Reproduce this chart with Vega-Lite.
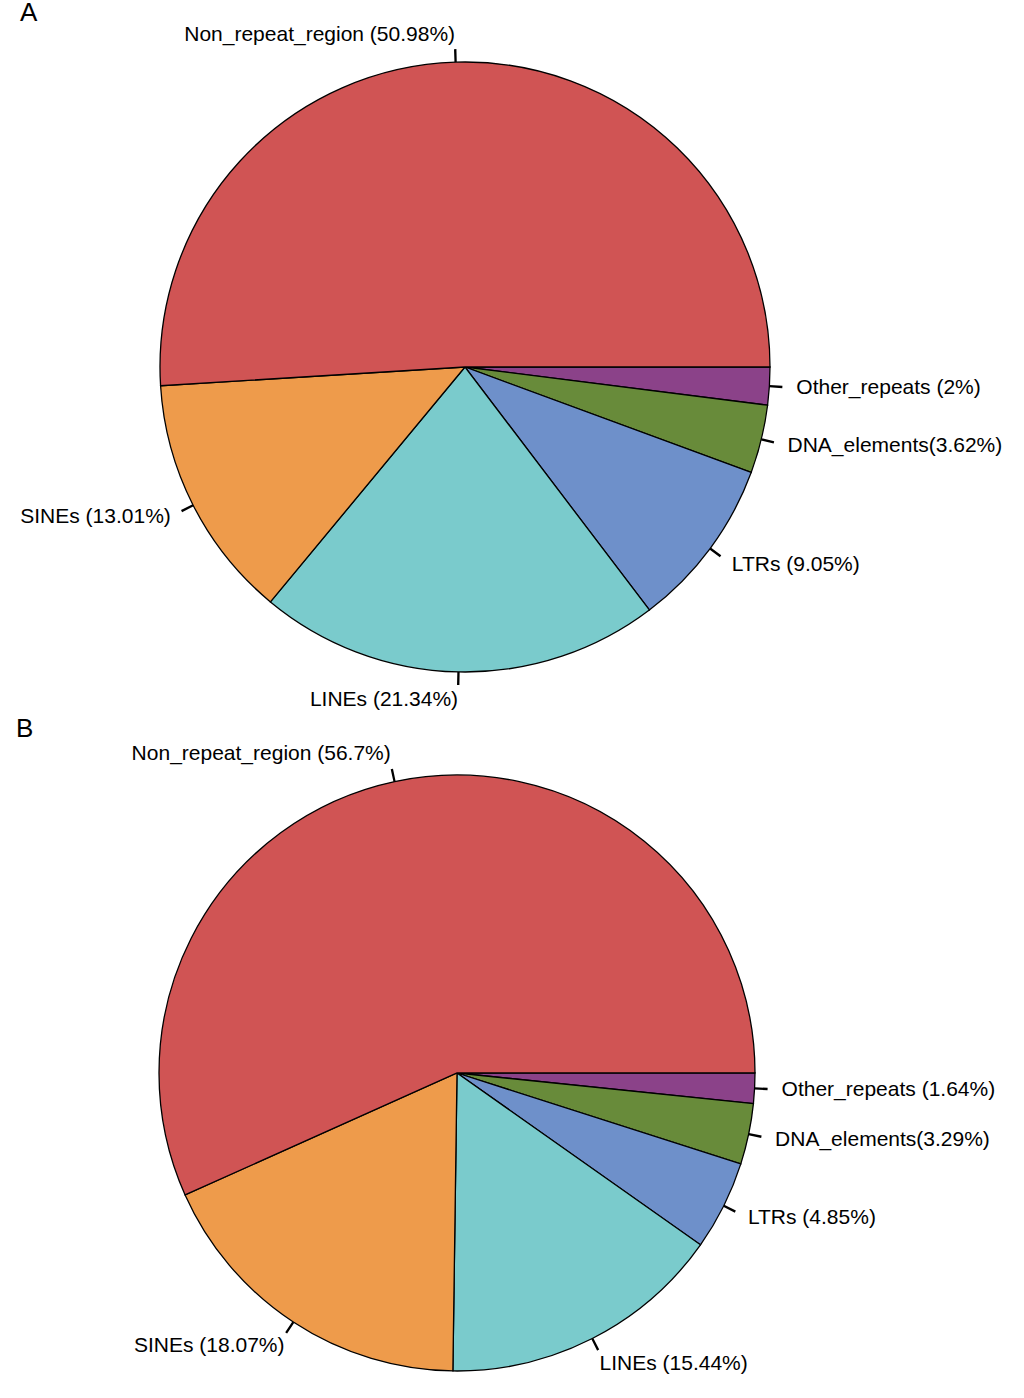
{
  "$schema": "https://vega.github.io/schema/vega-lite/v6.json",
  "padding": 0,
  "spacing": 0,
  "config": {"view": {"stroke": null}, "font": "Liberation Sans"},
  "datasets": {
    "a": [
      {"name": "Other_repeats (2%)", "v": 2, "ord": 1},
      {"name": "DNA_elements(3.62%)", "v": 3.62, "ord": 2},
      {"name": "LTRs (9.05%)", "v": 9.05, "ord": 3},
      {"name": "LINEs (21.34%)", "v": 21.34, "ord": 4},
      {"name": "SINEs (13.01%)", "v": 13.01, "ord": 5},
      {"name": "Non_repeat_region (50.98%)", "v": 50.98, "ord": 6}
    ],
    "b": [
      {"name": "Other_repeats (1.64%)", "v": 1.64, "ord": 1},
      {"name": "DNA_elements(3.29%)", "v": 3.29, "ord": 2},
      {"name": "LTRs (4.85%)", "v": 4.85, "ord": 3},
      {"name": "LINEs (15.44%)", "v": 15.44, "ord": 4},
      {"name": "SINEs (18.07%)", "v": 18.07, "ord": 5},
      {"name": "Non_repeat_region (56.7%)", "v": 56.7, "ord": 6}
    ]
  },
  "vconcat": [
    {
      "width": 930, "height": 698,
      "title": {"text": "A", "anchor": "start", "fontSize": 26, "fontWeight": "normal", "offset": 0, "dx": 20, "dy": 8, "frame": "group"},
      "data": {"name": "a"},
      "transform": [
        {"stack": "v", "groupby": [], "sort": [{"field": "ord"}], "as": ["s", "e"]},
        {"calculate": "(datum.s+datum.e)/2", "as": "m"},
        {"calculate": "datum.m-0.06", "as": "t1"},
        {"calculate": "datum.m+0.06", "as": "t2"}
      ],
      "layer": [
        {
          "mark": {"type": "arc", "radius": 305, "stroke": "black", "strokeWidth": 1.3},
          "encoding": {
            "theta": {"field": "s", "type": "quantitative", "scale": {"domain": [0, 100], "range": [1.5708, 7.854]}},
            "theta2": {"field": "e"},
            "color": {"field": "ord", "type": "nominal", "legend": null, "scale": {"domain": [1, 2, 3, 4, 5, 6], "range": ["#8B4289", "#688B3A", "#6E90CA", "#7ACBCC", "#EE9B4B", "#D05454"]}}
          }
        },
        {
          "mark": {"type": "arc", "radius": 305, "radius2": 318, "fill": "black"},
          "encoding": {
            "theta": {"field": "t1", "type": "quantitative", "scale": {"domain": [0, 100], "range": [1.5708, 7.854]}},
            "theta2": {"field": "t2"}
          }
        },
        {
          "transform": [{"filter": "datum.ord <= 3"}],
          "mark": {"type": "text", "radius": 332, "align": "left", "baseline": "middle", "fontSize": 21},
          "encoding": {"theta": {"field": "m", "type": "quantitative", "scale": {"domain": [0, 100], "range": [1.5708, 7.854]}}, "text": {"field": "name"}}
        },
        {
          "transform": [{"filter": "datum.ord == 5"}],
          "mark": {"type": "text", "radius": 330, "align": "right", "baseline": "middle", "fontSize": 21},
          "encoding": {"theta": {"field": "m", "type": "quantitative", "scale": {"domain": [0, 100], "range": [1.5708, 7.854]}}, "text": {"field": "name"}}
        },
        {
          "transform": [{"filter": "datum.ord == 4"}],
          "mark": {"type": "text", "radius": 322, "align": "right", "baseline": "top", "fontSize": 21},
          "encoding": {"theta": {"field": "m", "type": "quantitative", "scale": {"domain": [0, 100], "range": [1.5708, 7.854]}}, "text": {"field": "name"}}
        },
        {
          "transform": [{"filter": "datum.ord == 6"}],
          "mark": {"type": "text", "radius": 322, "align": "right", "baseline": "bottom", "fontSize": 21},
          "encoding": {"theta": {"field": "m", "type": "quantitative", "scale": {"domain": [0, 100], "range": [1.5708, 7.854]}}, "text": {"field": "name"}}
        }
      ]
    },
    {
      "width": 914, "height": 670,
      "title": {"text": "B", "anchor": "start", "fontSize": 26, "fontWeight": "normal", "offset": 0, "dx": 16, "dy": 4, "frame": "group"},
      "data": {"name": "b"},
      "transform": [
        {"stack": "v", "groupby": [], "sort": [{"field": "ord"}], "as": ["s", "e"]},
        {"calculate": "(datum.s+datum.e)/2", "as": "m"},
        {"calculate": "datum.m-0.06", "as": "t1"},
        {"calculate": "datum.m+0.06", "as": "t2"}
      ],
      "layer": [
        {
          "mark": {"type": "arc", "radius": 298, "stroke": "black", "strokeWidth": 1.3},
          "encoding": {
            "theta": {"field": "s", "type": "quantitative", "scale": {"domain": [0, 100], "range": [1.5708, 7.854]}},
            "theta2": {"field": "e"},
            "color": {"field": "ord", "type": "nominal", "legend": null, "scale": {"domain": [1, 2, 3, 4, 5, 6], "range": ["#8B4289", "#688B3A", "#6E90CA", "#7ACBCC", "#EE9B4B", "#D05454"]}}
          }
        },
        {
          "mark": {"type": "arc", "radius": 298, "radius2": 311, "fill": "black"},
          "encoding": {
            "theta": {"field": "t1", "type": "quantitative", "scale": {"domain": [0, 100], "range": [1.5708, 7.854]}},
            "theta2": {"field": "t2"}
          }
        },
        {
          "transform": [{"filter": "datum.ord <= 3"}],
          "mark": {"type": "text", "radius": 325, "align": "left", "baseline": "middle", "fontSize": 21},
          "encoding": {"theta": {"field": "m", "type": "quantitative", "scale": {"domain": [0, 100], "range": [1.5708, 7.854]}}, "text": {"field": "name"}}
        },
        {
          "transform": [{"filter": "datum.ord == 4"}],
          "mark": {"type": "text", "radius": 314, "align": "left", "baseline": "top", "fontSize": 21},
          "encoding": {"theta": {"field": "m", "type": "quantitative", "scale": {"domain": [0, 100], "range": [1.5708, 7.854]}}, "text": {"field": "name"}}
        },
        {
          "transform": [{"filter": "datum.ord == 5"}],
          "mark": {"type": "text", "radius": 314, "align": "right", "baseline": "top", "fontSize": 21},
          "encoding": {"theta": {"field": "m", "type": "quantitative", "scale": {"domain": [0, 100], "range": [1.5708, 7.854]}}, "text": {"field": "name"}}
        },
        {
          "transform": [{"filter": "datum.ord == 6"}],
          "mark": {"type": "text", "radius": 316, "align": "right", "baseline": "bottom", "fontSize": 21},
          "encoding": {"theta": {"field": "m", "type": "quantitative", "scale": {"domain": [0, 100], "range": [1.5708, 7.854]}}, "text": {"field": "name"}}
        }
      ]
    }
  ]
}
